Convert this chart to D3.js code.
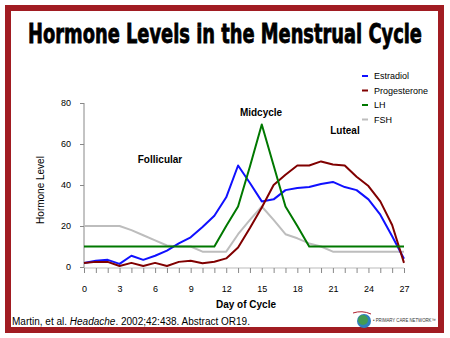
<!DOCTYPE html>
<html>
<head>
<meta charset="utf-8">
<script src="https://cdn.jsdelivr.net/npm/d3@7"></script>
<style>
html,body{margin:0;padding:0;background:#fff;}
svg{display:block;}
text{font-family:"Liberation Sans",Arial,sans-serif;}
</style>
</head>
<body>
<script>
const days = [0,1,2,3,4,5,6,7,8,9,10,11,12,13,14,15,16,17,18,19,20,21,22,23,24,25,26,27];
const estradiol = [2,3,3.5,1.5,5.5,3.5,5.5,8,11.5,14.5,19.5,25,34,49.5,41,32,33,37.5,38.5,39,40.5,41.5,39,37.5,33,25.5,15,4];
const progesterone = [2,2.5,2.5,0.5,2,0.5,2,0.5,2.5,3,1.8,2.6,4.2,9.5,19,29,40,45,49.5,49.5,51.5,50,49.5,44,39.5,32,20.5,2];
const lh = [10,10,10,10,10,10,10,10,10,10,10,10,20,29.5,49,69.5,49.5,29.5,20,10,10,10,10,10,10,10,10,10];
const fsh = [20,20,20,20,18,15.5,13,10.5,10,10,7.5,7.5,7.5,16,23,29.5,23,16,14,11.5,10,7.5,7.5,7.5,7.5,7.5,7.5,7.5];
const seriesNames = ["Estradiol","Progesterone","LH","FSH"];
const xTickLabels = [0,3,6,9,12,15,18,21,24,27];
const yTickLabels = [0,20,40,60,80];
const phaseLabels = ["Follicular","Midcycle","Luteal"];

const W = 450, H = 338;
const svg = d3.select("body").append("svg").attr("width", W).attr("height", H);

// frame
svg.append("rect").attr("x",8).attr("y",8).attr("width",433).attr("height",322)
  .attr("fill","#fff").attr("stroke","#a11c22").attr("stroke-width",6);

// title (scaled to the reference width)
const tg = svg.append("g");
const title = tg.append("text").attr("x",0).attr("y",0).attr("text-anchor","middle")
  .style("font-family","'DejaVu Sans Condensed','DejaVu Sans',sans-serif")
  .style("font-weight","bold").style("font-size","27px")
  .attr("fill","#000").attr("stroke","#000").attr("stroke-width",0.8)
  .text("Hormone Levels in the Menstrual Cycle");
const tw = title.node().getComputedTextLength();
tg.attr("transform",`translate(225,43) scale(${394/tw},1)`);

const x = d3.scaleLinear().domain([0,27]).range([84,404]);
const y = d3.scaleLinear().domain([0,80]).range([267,103]);

// y axis
const yAxis = d3.axisLeft(y).tickValues(yTickLabels).tickSize(4).tickPadding(9);
const gy = svg.append("g").attr("transform","translate(84,0)").call(yAxis);
gy.select(".domain").attr("stroke","#888").attr("d","M0,103V268");
gy.selectAll(".tick line").attr("stroke","#888");
gy.selectAll(".tick text").style("font-size","9px").attr("fill","#000");

// x axis
const xAxis = d3.axisBottom(x).tickValues(days).tickSize(5).tickFormat(d => xTickLabels.includes(d) ? d : "").tickPadding(13);
const gx = svg.append("g").attr("transform","translate(0,268)").call(xAxis);
gx.select(".domain").attr("stroke","#bbb").attr("d","M84,0H404");
gx.selectAll(".tick line").attr("stroke","#888");
gx.selectAll(".tick text").style("font-size","9px").attr("fill","#000");

// axis titles
svg.append("text").attr("transform","translate(44,190) rotate(-90)").attr("text-anchor","middle")
  .style("font-size","10px").text("Hormone Level");
svg.append("text").attr("x",246).attr("y",308).attr("text-anchor","middle")
  .style("font-size","10px").style("font-weight","bold").text("Day of Cycle");

// lines
const colors = {"Estradiol":"#1010ff","Progesterone":"#800000","LH":"#007800","FSH":"#bdbdbd"};
const dataMap = {"Estradiol":estradiol,"Progesterone":progesterone,"LH":lh,"FSH":fsh};
const line = d3.line().x((d,i)=>x(days[i])).y(d=>y(d));
["FSH","Estradiol","Progesterone","LH"].forEach(name=>{
  svg.append("path").datum(dataMap[name]).attr("d",line)
    .attr("fill","none").attr("stroke",colors[name]).attr("stroke-width",2)
    .attr("stroke-linejoin","round");
});

// phase labels
const phasePos = [[160,163],[261,116],[345,134]];
phaseLabels.forEach((t,i)=>{
  svg.append("text").attr("x",phasePos[i][0]).attr("y",phasePos[i][1]).attr("text-anchor","middle")
    .style("font-size","10px").style("font-weight","bold").text(t);
});

// legend
seriesNames.forEach((name,i)=>{
  const yy = 76 + i*14.5;
  svg.append("line").attr("x1",362).attr("x2",368).attr("y1",yy).attr("y2",yy)
    .attr("stroke",colors[name]).attr("stroke-width",2);
  svg.append("text").attr("x",374).attr("y",yy+3).style("font-size","9px").text(name);
});

// citation
const cit = svg.append("text").attr("x",12).attr("y",325).style("font-size","10px");
cit.append("tspan").text("Martin, et al. ");
cit.append("tspan").style("font-style","italic").text("Headache");
cit.append("tspan").text(". 2002;42:438. Abstract OR19.");

// logo
const lg = svg.append("g");
lg.append("circle").attr("cx",364).attr("cy",321).attr("r",7).attr("fill","#2f7fbf");
lg.append("circle").attr("cx",363).attr("cy",320).attr("r",5).attr("fill","#4aa33a").attr("opacity",0.8);
lg.append("path").attr("d","M353,313 Q362,310 371,314").attr("fill","none").attr("stroke","#b02030").attr("stroke-width",1);
const lgg = lg.append("g");
const lt = lgg.append("text").attr("x",0).attr("y",0).style("font-size","5px").attr("fill","#333")
  .text("• PRIMARY CARE NETWORK™");
const lw = lt.node().getComputedTextLength();
lgg.attr("transform",`translate(373,322) scale(${63/lw},1)`);
</script>
</body>
</html>
